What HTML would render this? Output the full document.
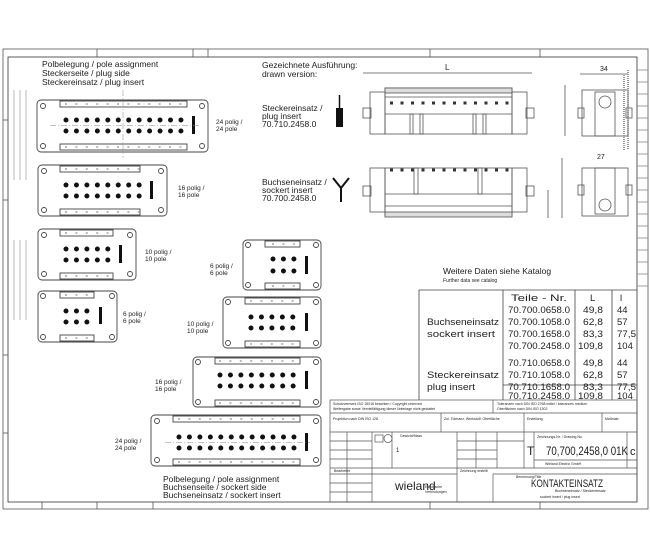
<!DOCTYPE html>
<html><head><meta charset="utf-8"><style>
html,body{margin:0;padding:0;background:#fff}
svg{display:block}
text{font-family:"Liberation Sans",sans-serif;fill:#222}
</style></head><body>
<svg width="650" height="560" viewBox="0 0 650 560" xmlns="http://www.w3.org/2000/svg">
<rect width="650" height="560" fill="#fff"/>
<g fill="none" stroke="#555" stroke-width="0.8">
<rect x="3" y="49" width="645" height="460"/>
<rect x="8" y="57" width="629" height="445" stroke="#333"/>
<line x1="97" y1="49" x2="97" y2="57"/><line x1="193" y1="49" x2="193" y2="57"/><line x1="208" y1="49" x2="208" y2="57"/><line x1="430" y1="49" x2="430" y2="57"/><line x1="540" y1="49" x2="540" y2="57"/>
<line x1="42" y1="502" x2="42" y2="509"/><line x1="97" y1="502" x2="97" y2="509"/><line x1="153" y1="502" x2="153" y2="509"/><line x1="430" y1="502" x2="430" y2="509"/><line x1="540" y1="502" x2="540" y2="509"/>
<line x1="3" y1="120" x2="8" y2="120"/><line x1="3" y1="200" x2="8" y2="200"/><line x1="3" y1="355" x2="8" y2="355"/><line x1="3" y1="433" x2="8" y2="433"/>
<g stroke="#888"><line x1="637" y1="70" x2="648" y2="70"/><line x1="637" y1="82" x2="648" y2="82"/><line x1="637" y1="94" x2="648" y2="94"/><line x1="637" y1="106" x2="648" y2="106"/><line x1="637" y1="118" x2="648" y2="118"/><line x1="637" y1="130" x2="648" y2="130"/><line x1="637" y1="142" x2="648" y2="142"/><line x1="637" y1="154" x2="648" y2="154"/><line x1="637" y1="166" x2="648" y2="166"/><line x1="637" y1="178" x2="648" y2="178"/><line x1="637" y1="190" x2="648" y2="190"/><line x1="637" y1="202" x2="648" y2="202"/><line x1="637" y1="214" x2="648" y2="214"/><line x1="637" y1="226" x2="648" y2="226"/><line x1="637" y1="238" x2="648" y2="238"/><line x1="637" y1="250" x2="648" y2="250"/><line x1="637" y1="262" x2="648" y2="262"/><line x1="637" y1="274" x2="648" y2="274"/><line x1="637" y1="286" x2="648" y2="286"/></g>
<g stroke="#aaa"><line x1="14" y1="90" x2="14" y2="180"/><line x1="20" y1="90" x2="20" y2="180"/><line x1="26" y1="90" x2="26" y2="180"/><line x1="14" y1="240" x2="14" y2="320"/><line x1="20" y1="240" x2="20" y2="320"/><line x1="26" y1="240" x2="26" y2="320"/></g>
</g>

<g font-size="8.5">
<text x="42" y="67">Polbelegung / pole assignment</text>
<text x="42" y="76">Steckerseite / plug side</text>
<text x="42" y="85">Steckereinsatz / plug insert</text>
<text x="163" y="482">Polbelegung / pole assignment</text>
<text x="163" y="490">Buchsenseite / sockert side</text>
<text x="163" y="498">Buchseneinsatz / sockert insert</text>
<text x="262" y="68">Gezeichnete Ausführung:</text>
<text x="262" y="77">drawn version:</text>
<text x="262" y="111">Steckereinsatz /</text>
<text x="262" y="119">plug insert</text>
<text x="262" y="127">70.710.2458.0</text>
<text x="262" y="185">Buchseneinsatz /</text>
<text x="262" y="193">sockert insert</text>
<text x="262" y="201">70.700.2458.0</text>
</g>
<g font-size="6.5">
<text x="216" y="124">24 polig /</text><text x="216" y="131">24 pole</text>
<text x="178" y="190">16 polig /</text><text x="178" y="197">16 pole</text>
<text x="145" y="254">10 polig /</text><text x="145" y="261">10 pole</text>
<text x="123" y="316">6 polig /</text><text x="123" y="323">6 pole</text>
<text x="210" y="268">6 polig /</text><text x="210" y="275">6 pole</text>
<text x="187" y="326">10 polig /</text><text x="187" y="333">10 pole</text>
<text x="155" y="384">16 polig /</text><text x="155" y="391">16 pole</text>
<text x="115" y="443">24 polig /</text><text x="115" y="450">24 pole</text>
</g>

<rect x="336" y="108" width="7" height="19" fill="#111"/><line x1="339.5" y1="95" x2="339.5" y2="108" stroke="#111" stroke-width="1.5"/>
<path d="M333 178 L341 188 L349 178 M341 188 L341 202" fill="none" stroke="#111" stroke-width="2"/>

<g fill="none" stroke="#444" stroke-width="0.9">
<rect x="37" y="100" width="171" height="52" rx="4"/><rect x="60" y="101" width="127" height="6"/><rect x="60" y="144" width="127" height="6"/>
<circle cx="43" cy="106" r="2.5"/><circle cx="202" cy="106" r="2.5"/><circle cx="43" cy="146" r="2.5"/><circle cx="202" cy="146" r="2.5"/>
<rect x="38" y="165" width="129" height="51" rx="4"/><rect x="60" y="166" width="80" height="6"/><rect x="60" y="209" width="80" height="6"/>
<circle cx="44" cy="171" r="2.5"/><circle cx="161" cy="171" r="2.5"/><circle cx="44" cy="210" r="2.5"/><circle cx="161" cy="210" r="2.5"/>
<rect x="38" y="229" width="98" height="51" rx="4"/><rect x="60" y="230" width="53" height="6"/><rect x="60" y="273" width="53" height="6"/>
<circle cx="44" cy="235" r="2.5"/><circle cx="130" cy="235" r="2.5"/><circle cx="44" cy="274" r="2.5"/><circle cx="130" cy="274" r="2.5"/>
<rect x="38" y="291" width="79" height="51" rx="4"/><rect x="60" y="292" width="34" height="6"/><rect x="60" y="335" width="34" height="6"/>
<circle cx="43" cy="296" r="2.5"/><circle cx="112" cy="296" r="2.5"/><circle cx="43" cy="337" r="2.5"/><circle cx="112" cy="337" r="2.5"/>
<rect x="243" y="240" width="78" height="50" rx="4"/><rect x="265" y="241" width="35" height="6"/><rect x="265" y="283" width="35" height="6"/>
<circle cx="248" cy="245" r="2.5"/><circle cx="316" cy="245" r="2.5"/><circle cx="248" cy="285" r="2.5"/><circle cx="316" cy="285" r="2.5"/>
<rect x="223" y="297" width="98" height="51" rx="4"/><rect x="245" y="298" width="55" height="6"/><rect x="245" y="341" width="55" height="6"/>
<circle cx="228" cy="302" r="2.5"/><circle cx="316" cy="302" r="2.5"/><circle cx="228" cy="343" r="2.5"/><circle cx="316" cy="343" r="2.5"/>
<rect x="193" y="357" width="128" height="50" rx="4"/><rect x="215" y="358" width="85" height="6"/><rect x="215" y="400" width="85" height="6"/>
<circle cx="198" cy="362" r="2.5"/><circle cx="316" cy="362" r="2.5"/><circle cx="198" cy="402" r="2.5"/><circle cx="316" cy="402" r="2.5"/>
<rect x="151" y="415" width="170" height="51" rx="4"/><rect x="173" y="416" width="127" height="6"/><rect x="173" y="459" width="127" height="6"/>
<circle cx="157" cy="421" r="2.5"/><circle cx="316" cy="421" r="2.5"/><circle cx="157" cy="460" r="2.5"/><circle cx="316" cy="460" r="2.5"/>
<g stroke="#777" stroke-dasharray="2 8.4">
<line x1="65" y1="104" x2="187" y2="104"/><line x1="65" y1="147" x2="187" y2="147"/>
<line x1="65" y1="169" x2="140" y2="169"/><line x1="65" y1="212" x2="140" y2="212"/>
<line x1="65" y1="233" x2="113" y2="233"/><line x1="65" y1="276" x2="113" y2="276"/>
<line x1="65" y1="295" x2="94" y2="295"/><line x1="65" y1="338" x2="94" y2="338"/>
<line x1="272" y1="244" x2="300" y2="244"/><line x1="272" y1="286" x2="300" y2="286"/>
<line x1="250" y1="301" x2="300" y2="301"/><line x1="250" y1="344" x2="300" y2="344"/>
<line x1="219" y1="361" x2="300" y2="361"/><line x1="219" y1="403" x2="300" y2="403"/>
<line x1="178" y1="419" x2="300" y2="419"/><line x1="178" y1="462" x2="300" y2="462"/>
</g>
</g>
<g stroke="#111" stroke-width="5" stroke-linecap="round" stroke-dasharray="0 10.45">
<line x1="66" y1="120" x2="185" y2="120"/><line x1="66" y1="131" x2="185" y2="131"/>
<line x1="66" y1="185" x2="143" y2="185"/><line x1="66" y1="196" x2="143" y2="196"/>
<line x1="66" y1="249" x2="110" y2="249"/><line x1="66" y1="260" x2="110" y2="260"/>
<line x1="66" y1="311" x2="90" y2="311"/><line x1="66" y1="322" x2="90" y2="322"/>
<line x1="273" y1="259" x2="296" y2="259"/><line x1="273" y1="271" x2="296" y2="271"/>
<line x1="251" y1="317" x2="296" y2="317"/><line x1="251" y1="328" x2="296" y2="328"/>
<line x1="220" y1="375" x2="296" y2="375"/><line x1="220" y1="386" x2="296" y2="386"/>
<line x1="179" y1="437" x2="296" y2="437"/><line x1="179" y1="448" x2="296" y2="448"/>
</g>
<g fill="#111">
<rect x="192" y="116" width="3" height="18"/><rect x="150" y="181" width="3" height="18"/><rect x="119" y="245" width="3" height="18"/><rect x="99" y="307" width="3" height="17"/>
<rect x="305" y="256" width="3" height="18"/><rect x="305" y="313" width="3" height="18"/><rect x="305" y="371" width="3" height="18"/><rect x="305" y="433" width="3" height="18"/>
</g>
<g stroke="#888" stroke-width="0.5" stroke-dasharray="6 2 1 2"><line x1="123" y1="90" x2="123" y2="158"/><line x1="50" y1="125.5" x2="200" y2="125.5"/><line x1="165" y1="442.5" x2="310" y2="442.5"/></g>

<g fill="none" stroke="#555" stroke-width="0.8">
<line x1="363" y1="73" x2="532" y2="73"/><text x="445" y="70" font-size="8" fill="#555" stroke="none">L</text>
<line x1="580" y1="74" x2="628" y2="74"/><text x="600" y="71" font-size="7" fill="#555" stroke="none">34</text>
<rect x="385" y="88" width="127" height="46"/><rect x="385" y="88" width="127" height="5" fill="#ddd"/>
<rect x="370" y="92" width="15" height="42"/><rect x="512" y="92" width="15" height="42"/>
<rect x="363" y="108" width="8" height="10"/><rect x="526" y="108" width="8" height="10"/>
<line x1="385" y1="114" x2="512" y2="114"/><line x1="385" y1="97" x2="512" y2="97"/>
<g stroke="#333" stroke-width="3" stroke-dasharray="3 7.5"><line x1="390" y1="103" x2="510" y2="103"/><line x1="390" y1="170" x2="510" y2="170"/></g>
<rect x="410" y="114" width="3" height="20"/><rect x="420" y="114" width="3" height="20"/><rect x="473" y="114" width="3" height="20"/><rect x="483" y="114" width="3" height="20"/>
<rect x="385" y="168" width="127" height="48"/><rect x="385" y="212" width="127" height="5" fill="#ddd"/>
<rect x="370" y="168" width="15" height="44"/><rect x="512" y="168" width="15" height="44"/>
<rect x="363" y="186" width="8" height="10"/><rect x="526" y="186" width="8" height="10"/>
<line x1="385" y1="194" x2="512" y2="194"/><line x1="385" y1="206" x2="512" y2="206"/>
<rect x="414" y="168" width="4" height="26"/><rect x="478" y="168" width="4" height="26"/>
<line x1="565" y1="85" x2="565" y2="136"/><line x1="562" y1="158" x2="562" y2="218"/><line x1="548" y1="190" x2="548" y2="218"/>
<rect x="582" y="90" width="46" height="46"/><rect x="595" y="92" width="20" height="44"/><circle cx="605" cy="102" r="6"/>
<rect x="578" y="108" width="6" height="10"/><rect x="626" y="108" width="6" height="10"/>
<rect x="582" y="168" width="46" height="48"/><rect x="595" y="168" width="20" height="46"/><circle cx="605" cy="205" r="6"/>
<rect x="578" y="185" width="6" height="10"/><rect x="626" y="185" width="6" height="10"/>
<text x="597" y="159" font-size="7" fill="#555" stroke="none">27</text>
<g stroke="#999" stroke-width="2" stroke-dasharray="1 1"><line x1="628" y1="70" x2="628" y2="150"/><line x1="624" y1="75" x2="624" y2="150"/></g>
</g>

<text x="443" y="274" font-size="8.5">Weitere Daten siehe Katalog</text>
<text x="443" y="282" font-size="5" fill="#999">Further data see catalog</text>
<g fill="none" stroke="#444" stroke-width="0.8">
<line x1="419" y1="290" x2="637" y2="290"/><line x1="419" y1="290" x2="419" y2="400"/>
<line x1="503" y1="290" x2="503" y2="400"/><line x1="575" y1="290" x2="575" y2="400"/><line x1="612" y1="290" x2="612" y2="400"/>
<line x1="503" y1="385" x2="637" y2="385"/>
</g>
<g font-size="9.5" lengthAdjust="spacingAndGlyphs">
<text x="511" y="301" textLength="56" lengthAdjust="spacingAndGlyphs">Teile - Nr.</text><text x="590" y="301">L</text><text x="620" y="301">l</text>
<text x="508" y="313" textLength="62" lengthAdjust="spacingAndGlyphs">70.700.0658.0</text><text x="583" y="313" textLength="20" lengthAdjust="spacingAndGlyphs">49,8</text><text x="617" y="313">44</text>
<text x="427" y="325" textLength="72" lengthAdjust="spacingAndGlyphs">Buchseneinsatz</text><text x="508" y="325" textLength="62" lengthAdjust="spacingAndGlyphs">70.700.1058.0</text><text x="583" y="325" textLength="20" lengthAdjust="spacingAndGlyphs">62,8</text><text x="617" y="325">57</text>
<text x="427" y="337" textLength="68" lengthAdjust="spacingAndGlyphs">sockert insert</text><text x="508" y="337" textLength="62" lengthAdjust="spacingAndGlyphs">70.700.1658.0</text><text x="583" y="337" textLength="20" lengthAdjust="spacingAndGlyphs">83,3</text><text x="617" y="337" textLength="19" lengthAdjust="spacingAndGlyphs">77,5</text>
<text x="508" y="349" textLength="62" lengthAdjust="spacingAndGlyphs">70.700.2458.0</text><text x="578" y="349" textLength="25" lengthAdjust="spacingAndGlyphs">109,8</text><text x="617" y="349">104</text>
<text x="508" y="366" textLength="62" lengthAdjust="spacingAndGlyphs">70.710.0658.0</text><text x="583" y="366" textLength="20" lengthAdjust="spacingAndGlyphs">49,8</text><text x="617" y="366">44</text>
<text x="427" y="378" textLength="72" lengthAdjust="spacingAndGlyphs">Steckereinsatz</text><text x="508" y="378" textLength="62" lengthAdjust="spacingAndGlyphs">70.710.1058.0</text><text x="583" y="378" textLength="20" lengthAdjust="spacingAndGlyphs">62,8</text><text x="617" y="378">57</text>
<text x="427" y="390" textLength="48" lengthAdjust="spacingAndGlyphs">plug insert</text><text x="508" y="390" textLength="62" lengthAdjust="spacingAndGlyphs">70.710.1658.0</text><text x="583" y="390" textLength="20" lengthAdjust="spacingAndGlyphs">83,3</text><text x="617" y="390" textLength="19" lengthAdjust="spacingAndGlyphs">77,5</text>
<text x="508" y="399" textLength="62" lengthAdjust="spacingAndGlyphs">70.710.2458.0</text><text x="578" y="399" textLength="25" lengthAdjust="spacingAndGlyphs">109,8</text><text x="617" y="399">104</text>
</g>

<g fill="none" stroke="#555" stroke-width="0.7">
<rect x="330" y="400" width="307" height="102"/>
<line x1="493" y1="400" x2="493" y2="413"/><line x1="330" y1="413" x2="637" y2="413"/>
<line x1="441" y1="413" x2="441" y2="432"/><line x1="524" y1="413" x2="524" y2="432"/><line x1="602" y1="413" x2="602" y2="432"/>
<line x1="330" y1="432" x2="637" y2="432"/>
<line x1="347" y1="432" x2="347" y2="502"/><line x1="372" y1="432" x2="372" y2="502"/><line x1="392" y1="432" x2="392" y2="468"/>
<line x1="457" y1="432" x2="457" y2="502"/><line x1="476" y1="432" x2="476" y2="468"/><line x1="497" y1="432" x2="497" y2="468"/>
<line x1="524" y1="432" x2="524" y2="468"/><line x1="534" y1="432" x2="534" y2="468"/><line x1="627" y1="432" x2="627" y2="468"/>
<line x1="493" y1="474" x2="493" y2="502"/>
<line x1="330" y1="441" x2="372" y2="441"/><line x1="330" y1="450" x2="372" y2="450"/><line x1="330" y1="459" x2="372" y2="459"/>
<line x1="457" y1="441" x2="524" y2="441"/><line x1="457" y1="450" x2="497" y2="450"/><line x1="457" y1="459" x2="497" y2="459"/>
<line x1="534" y1="460" x2="637" y2="460"/>
<line x1="330" y1="468" x2="637" y2="468"/><line x1="330" y1="474" x2="457" y2="474"/><line x1="493" y1="474" x2="637" y2="474"/>
<line x1="330" y1="483" x2="372" y2="483"/><line x1="330" y1="492" x2="372" y2="492"/>
<rect x="375" y="435" width="8" height="7"/><circle cx="388" cy="438.5" r="4"/>
</g>
<g font-size="3.5" fill="#999">
<text x="333" y="405">Schutzvermerk ISO 16016 beachten / Copyright reserved</text><text x="333" y="410">Weitergabe sowie Vervielfältigung dieser Unterlage nicht gestattet</text>
<text x="497" y="405">Toleranzen nach DIN ISO 2768 mittel / tolerances medium</text><text x="497" y="410">Oberflächen nach DIN ISO 1302</text>
<text x="333" y="420">Projektion nach DIN ISO 128</text><text x="444" y="420">Zul. Toleranz, Werkstoff, Oberfläche</text><text x="527" y="420">Erstellung</text><text x="605" y="420">Maßstab</text>
<text x="400" y="437">Gewicht/Mass</text><text x="537" y="438">Zeichnungs-Nr. / Drawing No.</text><text x="545" y="465">Wieland Electric GmbH</text>
<text x="334" y="472">Bearbeitet</text><text x="460" y="472">Zeichnung erstellt</text><text x="516" y="478">Benennung/Title</text>
<text x="425" y="488">Elektrische</text><text x="425" y="493">Verbindungen</text>
<text x="540" y="498">sockert insert / plug insert</text><text x="555" y="492">Buchseneinsatz / Steckereinsatz</text>
</g>
<text x="396" y="452" font-size="6">1</text>
<text x="527" y="455" font-size="12">T</text>
<text x="546" y="455" font-size="12" textLength="82" lengthAdjust="spacingAndGlyphs">70,700,2458,0 01K</text>
<text x="630" y="455" font-size="11">c</text>
<text x="395" y="490" font-size="12" fill="#bbb">wieland</text>
<text x="531" y="487" font-size="11" textLength="72" lengthAdjust="spacingAndGlyphs">KONTAKTEINSATZ</text>
</svg>
</body></html>
